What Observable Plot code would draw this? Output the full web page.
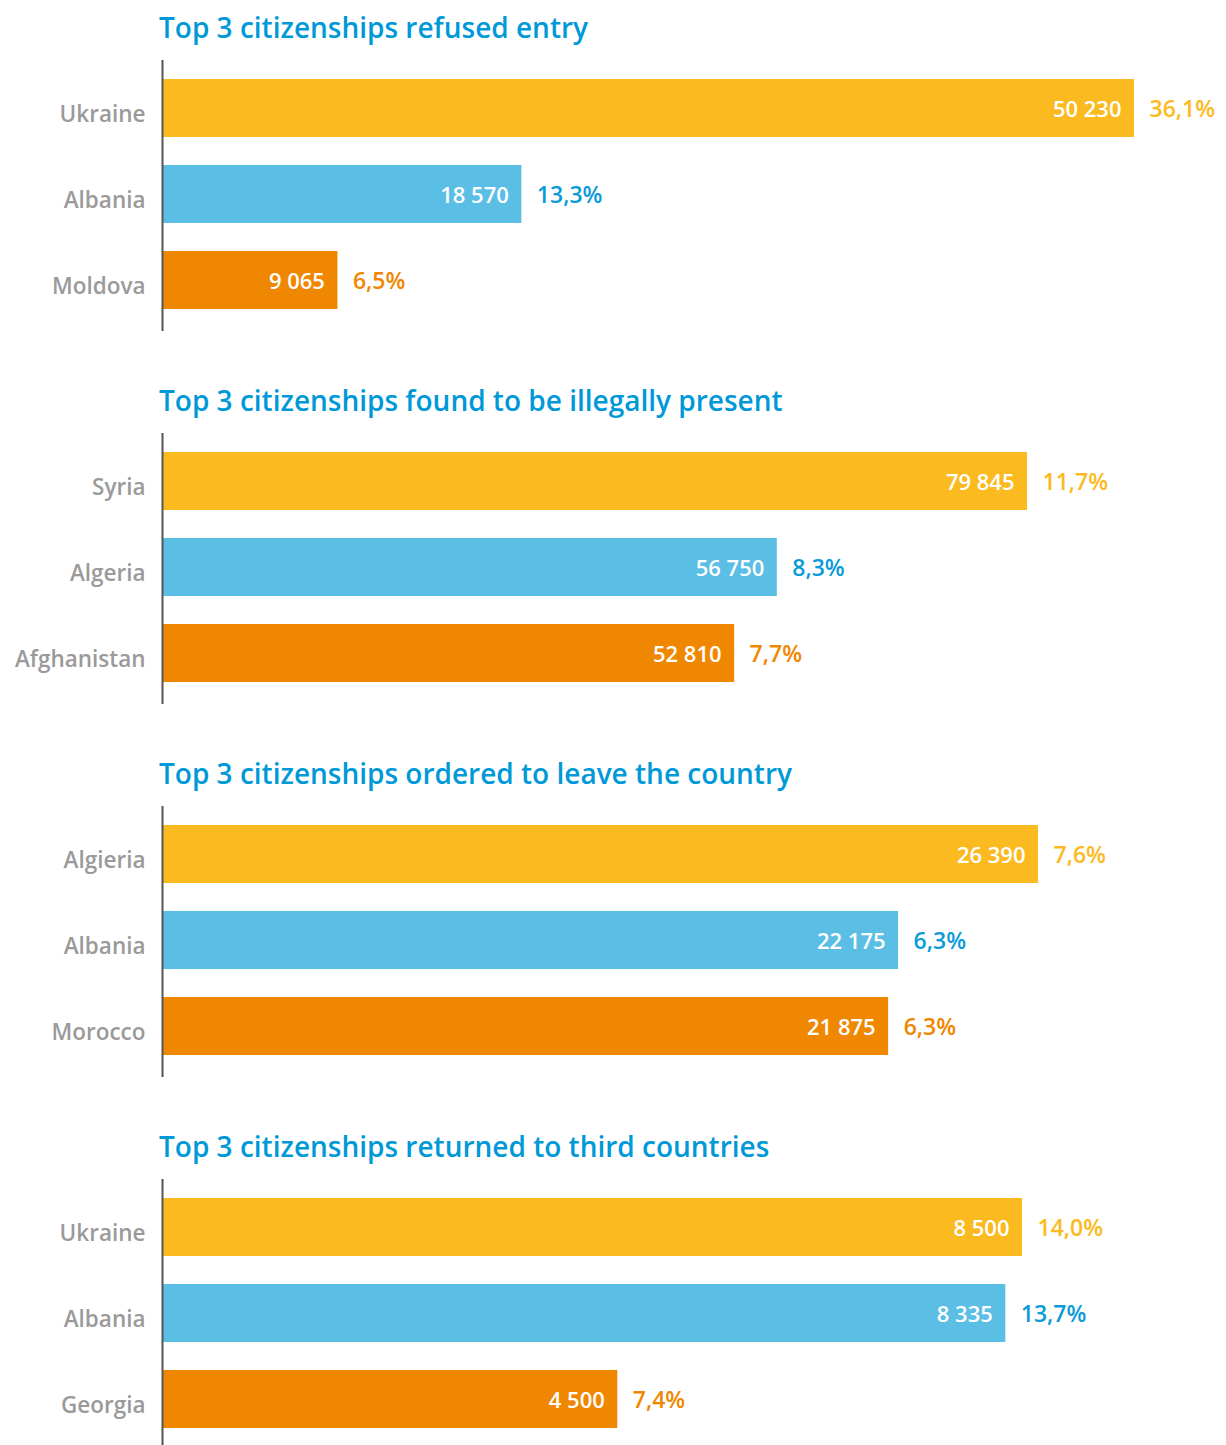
<!DOCTYPE html>
<html>
<head>
<meta charset="utf-8">
<script src="https://cdn.jsdelivr.net/npm/d3@7"></script>
<script src="https://cdn.jsdelivr.net/npm/@observablehq/plot@0.6"></script>
<style>
  body { margin: 0; background: #fff; font-family: "Open Sans", Roboto, sans-serif; }
  .panel { margin-bottom: 13px; }
  .title { height: 60px; line-height: 54px; padding-left: 159px; font-size: 28px; font-weight: 600; color: #0099D8; white-space: nowrap; letter-spacing: 0px; }
  svg { display: block; }
</style>
</head>
<body>
<div id="chart"></div>
<script>
const titles = [
  "Top 3 citizenships refused entry",
  "Top 3 citizenships found to be illegally present",
  "Top 3 citizenships ordered to leave the country",
  "Top 3 citizenships returned to third countries"
];

const refusedCountries = ["Ukraine", "Albania", "Moldova"];
const refusedValues = [50230, 18570, 9065];
const refusedShares = [36.1, 13.3, 6.5];

const illegalCountries = ["Syria", "Algeria", "Afghanistan"];
const illegalValues = [79845, 56750, 52810];
const illegalShares = [11.7, 8.3, 7.7];

const orderedCountries = ["Algieria", "Albania", "Morocco"];
const orderedValues = [26390, 22175, 21875];
const orderedShares = [7.6, 6.3, 6.3];

const returnedCountries = ["Ukraine", "Albania", "Georgia"];
const returnedValues = [8500, 8335, 4500];
const returnedShares = [14.0, 13.7, 7.4];

const barColors = ["#FBBA20", "#5BBEE5", "#F08700"];
const shareColors = ["#FBBA20", "#0A9BD8", "#F08700"];

// right margins so that each panel's longest bar ends where it does in the reference
const panelMarginRight = [92, 199, 188, 204];

const locale = d3.formatLocale({decimal: ",", thousands: " ", grouping: [3], currency: ["", ""]});
const fmtValue = locale.format(",d");
const fmtShare = v => locale.format(".1f")(v) + "%";

const panels = [
  [refusedCountries, refusedValues, refusedShares],
  [illegalCountries, illegalValues, illegalShares],
  [orderedCountries, orderedValues, orderedShares],
  [returnedCountries, returnedValues, returnedShares]
];

const root = document.getElementById("chart");
panels.forEach(([countries, values, shares], p) => {
  const data = countries.map((c, i) => ({country: c, value: values[i], share: shares[i], rank: i}));
  const div = document.createElement("div");
  div.className = "panel";
  const t = document.createElement("div");
  t.className = "title";
  t.textContent = titles[p];
  div.appendChild(t);
  const plot = Plot.plot({
    width: 1226,
    height: 300,
    marginLeft: 162,
    marginRight: panelMarginRight[p],
    marginTop: 0,
    marginBottom: 29,
    style: {fontFamily: "'Open Sans', Roboto, sans-serif", background: "white"},
    x: {domain: [0, d3.max(values)], axis: null},
    y: {domain: countries, paddingInner: 0.3256, paddingOuter: 0.238, align: 0.46, label: null},
    color: {type: "identity"},
    marks: [
      Plot.barX(data, {x: "value", y: "country", fill: d => barColors[d.rank]}),
      Plot.text(data, {x: "value", y: "country", text: d => fmtValue(d.value), textAnchor: "end", dx: -13, dy: 1, fill: "white", fontSize: 22, fontWeight: 600, letterSpacing: 0.6}),
      Plot.text(data, {x: "value", y: "country", text: d => fmtShare(d.share), textAnchor: "start", dx: 15, dy: 1, fill: d => shareColors[d.rank], fontSize: 23, fontWeight: 600, letterSpacing: 1.2}),
      Plot.ruleX([0], {stroke: "#555", strokeWidth: 2}),
      Plot.axisY({tickSize: 0, tickPadding: 17, fontSize: 22.5, fontWeight: 600, fill: "#9a9a9a", label: null, dy: 6})
    ]
  });
  div.appendChild(plot);
  root.appendChild(div);
});
</script>
</body>
</html>
